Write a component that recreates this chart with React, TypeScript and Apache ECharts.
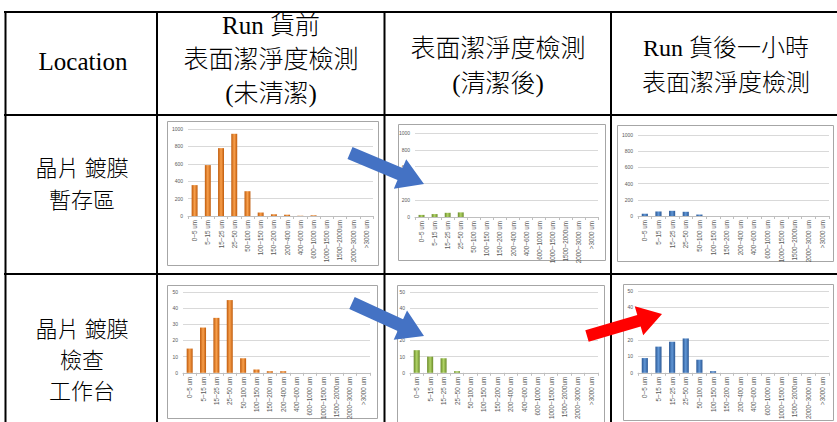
import React, { useEffect, useRef } from "react";
import * as echarts from "echarts";

const categories = ["0~5 um", "5~15 um", "15~25 um", "25~50 um", "50~100 um", "100~150 um", "150~200 um", "200~400 um", "400~600 um", "600~1000 um", "1000~1500 um", "1500~2000um", "2000~3000 um", ">3000 um"];

const storageBefore = [355, 585, 780, 945, 285, 40, 20, 15, 3, 8, 0, 0, 0, 0];
const storageAfterClean = [25, 35, 50, 55, 0, 0, 0, 0, 0, 0, 0, 0, 0, 0];
const storageAfterRun = [28, 56, 64, 52, 18, 0, 0, 0, 0, 0, 0, 0, 0, 0];
const inspectBefore = [15, 28, 34, 45, 9, 2, 1, 1, 0, 0, 0, 0, 0, 0];
const inspectAfterClean = [14, 10, 9, 1, 0, 0, 0, 0, 0, 0, 0, 0, 0, 0];
const inspectAfterRun = [9, 16, 19, 21, 8, 1, 0, 0, 0, 0, 0, 0, 0, 0];

const headerCol1 = ["Location"];
const headerCol2 = ["Run 貨前", "表面潔淨度檢測", "(未清潔)"];
const headerCol3 = ["表面潔淨度檢測", "(清潔後)"];
const headerCol4 = ["Run 貨後一小時", "表面潔淨度檢測"];
const row1Label = ["晶片 鍍膜", "暫存區"];
const row2Label = ["晶片 鍍膜", "檢查", "工作台"];

const ORANGE = ["#BF5B0C", "#F9A04C", "#BF5B0C"];
const GREEN = ["#6A8A2A", "#B0D466", "#6A8A2A"];
const BLUE = ["#2A5794", "#6197D6", "#2A5794"];

const charts = [
  { data: storageBefore, max: 1000, step: 200, colors: ORANGE, grid: { left: 188, top: 129, width: 185, height: 87 }, frame: [167, 121, 211, 144] },
  { data: storageAfterClean, max: 1000, step: 200, colors: GREEN, grid: { left: 415, top: 133, width: 183, height: 84 }, frame: [398, 124, 207, 136] },
  { data: storageAfterRun, max: 1000, step: 200, colors: BLUE, grid: { left: 638, top: 135, width: 191, height: 81 }, frame: [617, 125, 216, 136] },
  { data: inspectBefore, max: 50, step: 10, colors: ORANGE, grid: { left: 183, top: 292, width: 187, height: 82 }, frame: [167, 285, 210, 133] },
  { data: inspectAfterClean, max: 50, step: 10, colors: GREEN, grid: { left: 410, top: 292, width: 188, height: 84 }, frame: [397, 285, 207, 140] },
  { data: inspectAfterRun, max: 50, step: 10, colors: BLUE, grid: { left: 638, top: 291, width: 191, height: 83 }, frame: [623, 284, 210, 136] },
];

function arrow(tail: number[], tip: number[], shaftW: number, headW: number, headL: number) {
  const dx = tip[0] - tail[0];
  const dy = tip[1] - tail[1];
  const len = Math.sqrt(dx * dx + dy * dy);
  const ux = dx / len, uy = dy / len;
  const nx = -uy, ny = ux;
  const bx = tip[0] - ux * headL, by = tip[1] - uy * headL;
  return [
    [tail[0] + nx * shaftW / 2, tail[1] + ny * shaftW / 2],
    [bx + nx * shaftW / 2, by + ny * shaftW / 2],
    [bx + nx * headW / 2, by + ny * headW / 2],
    [tip[0], tip[1]],
    [bx - nx * headW / 2, by - ny * headW / 2],
    [bx - nx * shaftW / 2, by - ny * shaftW / 2],
    [tail[0] - nx * shaftW / 2, tail[1] - ny * shaftW / 2],
  ];
}

const SERIF = "'Liberation Serif', 'Noto Sans CJK TC Light', 'Noto Sans CJK TC', serif";
const CJK = "'Noto Sans CJK TC Light', 'Noto Sans CJK TC', sans-serif";

function textLines(lines: string[], cx: number, ys: number[], size: number, family: string) {
  return lines.map((t, i) => ({
    type: "text",
    z: 50,
    style: { text: t, x: cx, y: ys[i], align: "center", verticalAlign: "middle", fontSize: size, fontWeight: 300, fontFamily: family, fill: "#000" },
  }));
}

export default function App() {
  const ref = useRef<HTMLDivElement>(null);
  useEffect(() => {
    if (!ref.current) return;
    const chart = echarts.init(ref.current, null, { renderer: "svg" });
    const grids: any[] = [], xAxes: any[] = [], yAxes: any[] = [], series: any[] = [];
    charts.forEach((c, i) => {
      grids.push({ ...c.grid, containLabel: false });
      xAxes.push({
        type: "category", gridIndex: i, data: categories,
        axisLine: { lineStyle: { color: "#BFBFBF", width: 1 } },
        axisTick: { show: true, length: 3, lineStyle: { color: "#BFBFBF" } },
        axisLabel: { interval: 0, rotate: 90, fontSize: 6.3, color: "#595959", margin: 4, fontFamily: "Arial, 'Liberation Sans', sans-serif" },
      });
      yAxes.push({
        type: "value", gridIndex: i, min: 0, max: c.max, interval: c.step,
        axisLine: { show: false }, axisTick: { show: false },
        splitLine: { lineStyle: { color: "#D9D9D9", width: 1 } },
        axisLabel: { fontSize: 5, color: "#595959", margin: 5, formatter: (v: number) => String(v), fontFamily: "Arial, 'Liberation Sans', sans-serif" },
      });
      series.push({
        type: "bar", xAxisIndex: i, yAxisIndex: i, data: c.data, barWidth: "45%",
        itemStyle: {
          color: { type: "linear", x: 0, y: 0, x2: 1, y2: 0, colorStops: [
            { offset: 0, color: c.colors[0] }, { offset: 0.5, color: c.colors[1] }, { offset: 1, color: c.colors[2] } ] },
        },
      });
    });

    const frames = charts.map((c) => ({
      type: "rect", z: -10, silent: true,
      shape: { x: c.frame[0] + 0.5, y: c.frame[1] + 0.5, width: c.frame[2], height: c.frame[3] },
      style: { fill: "#fff", stroke: "#A6A6A6", lineWidth: 1 },
    }));

    const line = (x1: number, y1: number, x2: number, y2: number) => ({
      type: "line", z: 40, silent: true,
      shape: { x1, y1, x2, y2 }, style: { stroke: "#000", lineWidth: 2 },
    });

    const graphic: any[] = [
      ...frames,
      line(4, 12, 837, 12),
      line(4, 115, 837, 115),
      line(4, 274, 837, 274),
      line(5.5, 11, 5.5, 422),
      line(157, 11, 157, 422),
      line(384.5, 11, 384.5, 422),
      line(611, 11, 611, 422),
      ...textLines(headerCol1, 83, [61], 25, SERIF),
      ...textLines(headerCol2, 271, [25, 59, 93], 25, SERIF),
      ...textLines(headerCol3, 498, [48, 83], 25, SERIF),
      ...textLines(headerCol4, 726, [48, 83], 24, SERIF),
      ...textLines(row1Label, 82, [166, 198], 22, CJK),
      ...textLines(row2Label, 82, [327, 358, 389], 22, CJK),
      { type: "polygon", z: 100, shape: { points: arrow([350, 153], [424, 184], 13, 32, 26) }, style: { fill: "#4472C4" } },
      { type: "polygon", z: 100, shape: { points: arrow([352, 303], [424, 336], 13, 32, 26) }, style: { fill: "#4472C4" } },
      { type: "polygon", z: 100, shape: { points: arrow([587, 336], [662, 314], 12, 30, 24) }, style: { fill: "#FF0000" } },
    ];

    chart.setOption({
      animation: false,
      backgroundColor: "#fff",
      grid: grids,
      xAxis: xAxes,
      yAxis: yAxes,
      series,
      graphic,
    });
    return () => chart.dispose();
  }, []);
  return <div ref={ref} style={{ position: "fixed", left: 0, top: 0, width: 837, height: 422 }} />;
}
